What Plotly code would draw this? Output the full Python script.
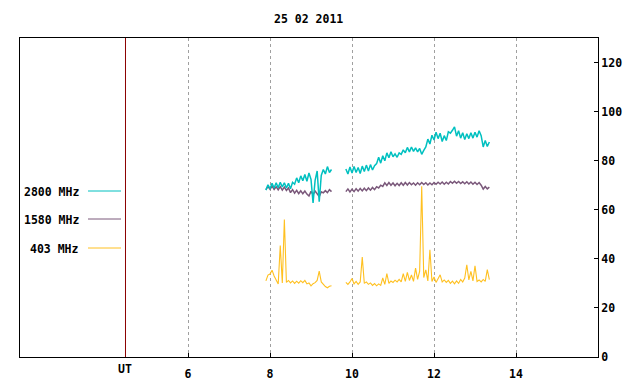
import plotly.graph_objects as go

# ---------------- data ----------------
time_a = [7.90, 7.95, 8.00, 8.05, 8.10, 8.15, 8.20, 8.25, 8.30, 8.35, 8.40,
          8.45, 8.50, 8.55, 8.60, 8.65, 8.70, 8.75, 8.80, 8.85, 8.90, 8.95,
          9.00, 9.05, 9.10, 9.15, 9.20, 9.25, 9.30, 9.35, 9.40, 9.45, 9.50]
time_b = [9.85, 9.90, 9.95, 10.00, 10.05, 10.10, 10.15, 10.20, 10.25, 10.30,
          10.35, 10.40, 10.45, 10.50, 10.55, 10.60, 10.65, 10.70, 10.75, 10.80,
          10.85, 10.90, 10.95, 11.00, 11.05, 11.10, 11.15, 11.20, 11.25, 11.30,
          11.35, 11.40, 11.45, 11.50, 11.55, 11.60, 11.65, 11.70, 11.75, 11.80,
          11.85, 11.90, 11.95, 12.00, 12.05, 12.10, 12.15, 12.20, 12.25, 12.30,
          12.35, 12.40, 12.45, 12.50, 12.55, 12.60, 12.65, 12.70, 12.75, 12.80,
          12.85, 12.90, 12.95, 13.00, 13.05, 13.10, 13.15, 13.20, 13.25, 13.30,
          13.35]

mhz2800_a = [68.0, 70.2, 68.6, 70.8, 68.9, 71.0, 69.0, 71.2, 69.3, 71.0, 68.9,
             70.8, 68.6, 71.2, 70.4, 73.0, 71.0, 73.8, 71.8, 74.4, 71.6, 75.0,
             72.4, 62.8, 72.0, 75.8, 63.3, 74.0, 76.4, 74.6, 77.6, 75.2, 76.4]
mhz2800_b = [76.6, 74.6, 77.4, 75.0, 77.6, 75.2, 77.2, 74.8, 77.8, 75.6,
             78.2, 75.8, 78.4, 76.2, 78.0, 78.8, 81.4, 79.0, 82.0, 80.0,
             83.2, 81.2, 83.6, 81.6, 82.8, 81.4, 83.2, 82.6, 84.4, 83.2,
             85.4, 83.6, 85.6, 83.8, 85.2, 83.6, 85.0, 82.6, 84.2, 85.6,
             88.8, 86.8, 90.4, 88.4, 91.6, 89.0, 91.2, 87.8, 90.2, 88.2,
             91.8, 91.2, 92.4, 93.8, 90.0, 92.2, 89.2, 91.4, 88.6, 91.0,
             89.0, 91.4, 89.2, 91.6, 89.6, 92.2, 90.2, 85.6, 88.2, 85.8,
             87.6]

mhz1580_a = [68.2, 69.5, 68.4, 69.6, 68.3, 69.4, 68.1, 69.4, 68.0, 69.2, 67.9,
             68.9, 67.0, 68.2, 66.8, 67.9, 66.6, 67.7, 66.5, 67.6, 66.4, 65.6,
             67.5, 66.2, 67.6, 66.4, 65.4, 67.3, 66.9, 67.8, 67.0, 68.2, 67.4]
mhz1580_b = [67.4, 68.5, 67.3, 68.4, 67.4, 68.6, 67.6, 68.7, 67.7, 68.8,
             67.8, 68.9, 68.0, 69.1, 68.2, 69.4, 68.9, 70.0, 69.5, 71.0,
             69.9, 71.1, 70.0, 70.9, 69.8, 70.8, 69.9, 71.0, 70.0, 71.1,
             70.1, 71.1, 70.2, 70.9, 70.0, 71.0, 70.2, 71.1, 70.3, 71.0,
             70.1, 70.9, 70.2, 71.1, 70.4, 71.2, 70.5, 71.3, 70.4, 71.2,
             70.5, 71.5, 70.8, 71.6, 70.8, 71.5, 70.7, 71.4, 70.6, 71.4,
             70.5, 71.3, 70.4, 71.2, 70.3, 71.1, 70.0, 68.4, 69.5, 68.5,
             69.2]

mhz403_a = [31.0, 33.4, 33.8, 35.4, 33.0, 31.4, 29.8, 45.4, 30.2, 56.0, 30.4,
            31.2, 30.2, 31.0, 30.0, 30.9, 30.1, 31.1, 30.3, 31.2, 29.8, 30.2,
            29.0, 29.9, 30.3, 31.2, 35.0, 30.6, 29.4, 28.7, 28.2, 28.8, 29.0]
mhz403_b = [30.4, 29.6, 30.6, 32.0, 29.8, 30.8, 29.6, 30.6, 40.7, 30.0,
            30.6, 29.6, 30.2, 29.2, 29.9, 29.0, 29.8, 29.2, 32.2, 29.6,
            34.0, 30.0, 31.0, 30.4, 31.3, 30.6, 31.6, 30.6, 34.0, 30.8,
            34.5, 31.2, 33.4, 30.8, 36.2, 31.6, 35.0, 69.6, 32.4, 35.5,
            31.0, 43.7, 30.8, 32.6, 30.4, 32.0, 33.5, 30.6, 31.4, 30.4,
            31.2, 30.0, 30.9, 29.8, 31.0, 30.0, 31.6, 30.6, 32.2, 37.6,
            31.4, 34.9, 31.0, 37.2, 30.8, 31.4, 30.6, 31.6, 30.8, 35.6,
            31.5]

series_names = ["2800 MHz", "1580 MHz", "403 MHz"]
series_colors = ["#00c0c0", "#7a587a", "#ffc020"]
series_widths = [1.5, 1.5, 1.1]
x_ticks = [6, 8, 10, 12, 14]
y_ticks = [0, 20, 40, 60, 80, 100, 120]
title_text = "25 02 2011"
ut_label = "UT"
ut_mark = 4.475
x_range = [1.902, 16.0]
y_range = [0, 130]

# ---------------- geometry (page pixels; the page body has an 8px margin) ----
OFF = 8
W, H = 640 - OFF, 384 - OFF
L, R, T, B = 20 - OFF, 598 - OFF, 38 - OFF, 357 - OFF
FONT = dict(family="DejaVu Sans Mono", size=11.5, color="black")


def px(xp):
    return (xp - OFF - L) / (R - L)


def py(yp):
    return (B - (yp - OFF)) / (B - T)


fig = go.Figure()
all_series = [(mhz2800_a, mhz2800_b), (mhz1580_a, mhz1580_b), (mhz403_a, mhz403_b)]
for idx in [2, 1, 0]:
    a, b = all_series[idx]
    fig.add_trace(go.Scatter(
        x=time_a + [None] + time_b,
        y=a + [None] + b,
        mode="lines",
        line=dict(color=series_colors[idx], width=series_widths[idx]),
        connectgaps=False,
        name=series_names[idx],
        hoverinfo="skip",
    ))

shapes = [dict(type="line", xref="x", yref="y", x0=ut_mark, x1=ut_mark,
               y0=y_range[0], y1=y_range[1],
               line=dict(color="#8b0000", width=1))]
annotations = [
    dict(text="<b>%s</b>" % title_text, xref="paper", yref="paper",
         x=px(308), y=py(19), xanchor="center", yanchor="middle",
         showarrow=False, font=FONT),
    dict(text="<b>%s</b>" % ut_label, xref="x", yref="paper",
         x=ut_mark, y=py(368.5), xanchor="center", yanchor="middle",
         showarrow=False, font=FONT),
]
legend_rows = [191, 219, 248]
for name, color, yrow in zip(series_names, series_colors, legend_rows):
    annotations.append(dict(text="<b>%s</b>" % name, xref="paper", yref="paper",
                            x=px(81), y=py(yrow + 1), xanchor="right",
                            yanchor="middle", showarrow=False, font=FONT))
    shapes.append(dict(type="line", xref="paper", yref="paper",
                       x0=px(88), x1=px(121), y0=py(yrow), y1=py(yrow),
                       line=dict(color=color, width=1)))

fig.update_layout(
    width=W, height=H,
    margin=dict(l=L, r=W - R, t=T, b=H - B, pad=0, autoexpand=False),
    paper_bgcolor="white", plot_bgcolor="white",
    showlegend=False,
    hovermode=False,
    font=FONT,
    shapes=shapes,
    annotations=annotations,
    xaxis=dict(
        range=x_range, tickvals=x_ticks, automargin=False,
        ticktext=["<b>%d</b>" % v for v in x_ticks],
        showgrid=True, gridcolor="#a0a0a0", gridwidth=1, griddash="3px,3px",
        zeroline=False, showline=True, linecolor="black", linewidth=1,
        mirror=True, ticks="inside", ticklen=4, tickcolor="black",
        tickfont=FONT, ticklabelstandoff=6,
    ),
    yaxis=dict(
        range=y_range, tickvals=y_ticks, side="right", automargin=False,
        ticktext=["<b>%d</b>" % v for v in y_ticks],
        showgrid=False, zeroline=False, showline=True, linecolor="black",
        linewidth=1, mirror=True, ticks="inside", ticklen=4,
        tickcolor="black", tickfont=FONT,
    ),
)

fig.write_html("out.html")
